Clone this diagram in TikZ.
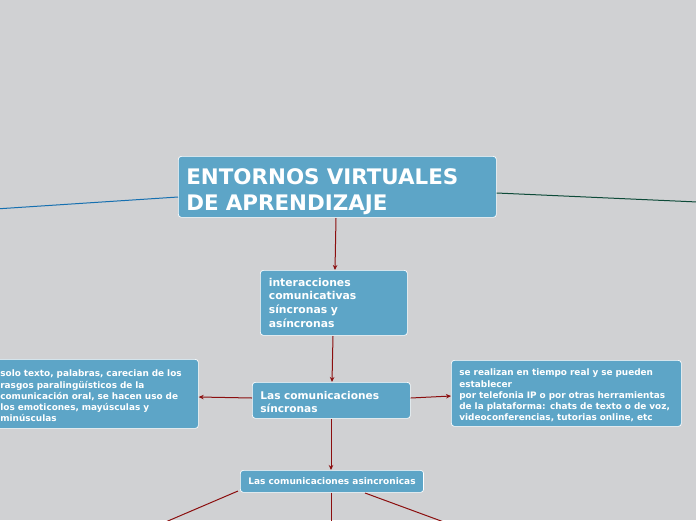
\documentclass[tikz,border=0pt]{standalone}
\usepackage{fontspec}
\setmainfont{DejaVu Sans}
\usetikzlibrary{arrows.meta}
\definecolor{bg}{HTML}{D0D1D3}
\definecolor{nodeblue}{HTML}{5DA5C7}
\definecolor{arrowred}{HTML}{8B0E0E}
\definecolor{lineblue}{HTML}{1670B0}
\definecolor{linegreen}{HTML}{0D4A38}
\tikzset{
  box/.style={rectangle, rounded corners=3pt, fill=nodeblue, draw=white, line width=0.7pt,
    text=white, anchor=north west, align=left, inner ysep=0pt, font=\bfseries},
  conn/.style={draw=arrowred, line width=1pt, -{Stealth[length=5pt,width=4.5pt]}},
  plain/.style={draw=arrowred, line width=1pt},
}
\begin{document}
\begin{tikzpicture}[x=1pt,y=-1pt]
\fill[bg] (0,0) rectangle (696,520);
\useasboundingbox (0,0) rectangle (696,520);
\clip (0,0) rectangle (696,520);

\node[box, minimum width=318pt, minimum height=61pt, inner xsep=8pt, text width=302pt,
  font=\bfseries\fontsize{21.4}{26}\selectfont] (main) at (178,156)
  {\rule{0pt}{25pt}ENTORNOS VIRTUALES\\DE APRENDIZAJE};

\node[box, minimum width=147pt, minimum height=65pt, inner xsep=8.5pt, text width=130pt,
  font=\bfseries\fontsize{10.8}{13.8}\selectfont] (inter) at (260,270)
  {interacciones\\comunicativas\\síncronas y\\asíncronas};

\node[box, minimum width=158pt, minimum height=36pt, inner xsep=8pt, text width=142pt,
  font=\bfseries\fontsize{10.6}{13.2}\selectfont] (sinc) at (252,382)
  {\rule{0pt}{12pt}Las comunicaciones\\síncronas};

\node[box, minimum width=207pt, minimum height=69pt, inner xsep=9pt, text width=189pt,
  font=\bfseries\fontsize{8.9}{11.2}\selectfont] (left) at (-9,359)
  {\rule{0pt}{11pt}solo texto, palabras, carecian de los\\rasgos paralingüísticos de la\\comunicación oral, se hacen uso de\\los emoticones, mayúsculas y\\minúsculas};

\node[box, minimum width=230pt, minimum height=66pt, inner xsep=8pt, text width=214pt,
  font=\bfseries\fontsize{8.9}{11.2}\selectfont] (right) at (451,360)
  {\rule{0pt}{11pt}se realizan en tiempo real y se pueden\\establecer\\por telefonia IP o por otras herramientas\\de la plataforma: chats de texto o de voz,\\videoconferencias, tutorias online, etc};

\node[box, minimum width=182pt, minimum height=22pt, inner xsep=8pt, align=center,
  font=\bfseries\fontsize{9}{10}\selectfont] (asinc) at (240,470)
  {Las comunicaciones asincronicas};

\coordinate (offl) at (-20,210);
\coordinate (offr) at (720,203);
\coordinate (a1) at (100,550);
\coordinate (a2) at (331,540);
\coordinate (a3) at (520,550);

\draw[lineblue, line width=1pt] (main.west |- 0,197) -- (offl);
\draw[linegreen, line width=1pt] (main.east |- 0,193) -- (offr);

\draw[conn] (336,218) -- (inter.north -| 335,0);
\draw[conn] (333,336) -- (sinc.north -| 332,0);
\draw[conn] (sinc.west |- 0,398) -- (left.east |- 0,397);
\draw[conn] (sinc.east |- 0,398) -- (right.west |- 0,396);
\draw[conn] (331,419) -- (asinc.north -| 331,0);

\draw[plain] (238,491) -- (a1);
\draw[plain] (asinc.south -| 331,0) -- (a2);
\draw[plain] (365,493) -- (a3);
\end{tikzpicture}
\end{document}
